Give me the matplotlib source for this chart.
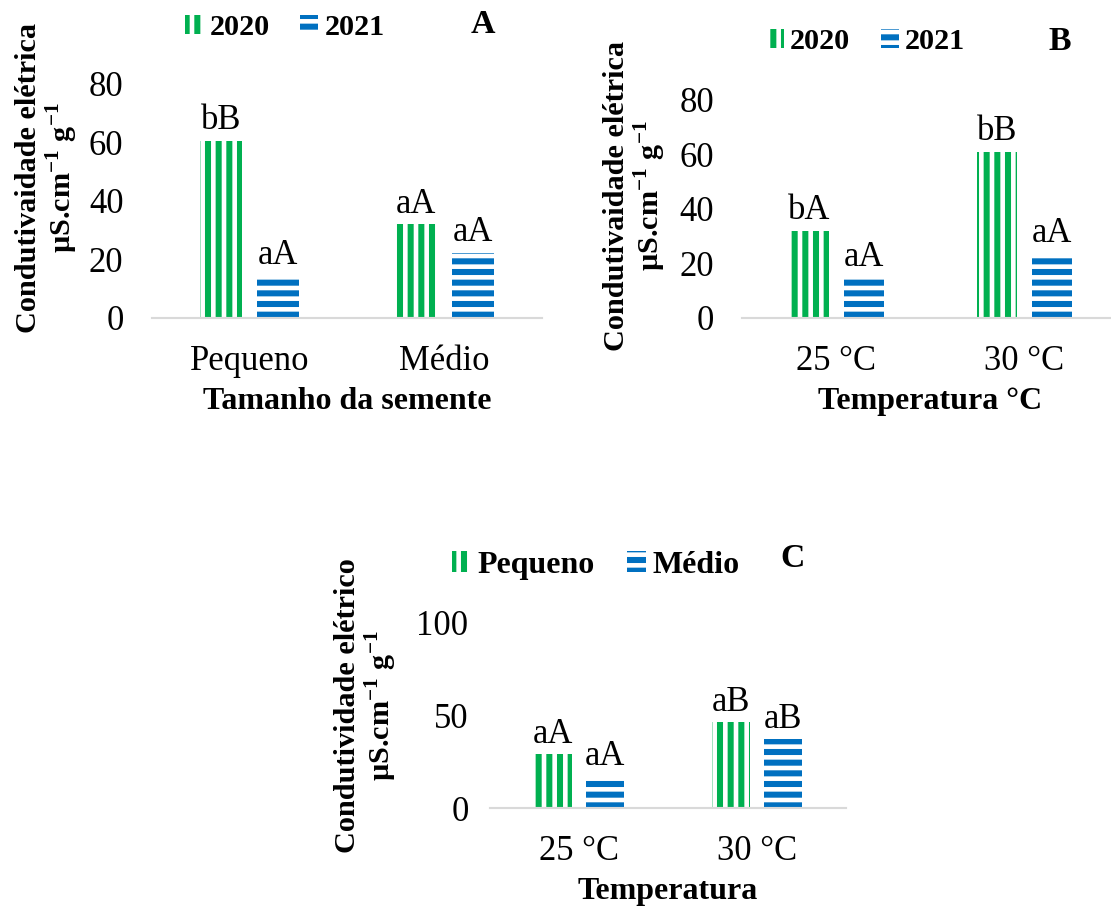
#!/usr/bin/env python3

'''Plot electrical conductivity bar charts (panels A, B and C).'''

import matplotlib
matplotlib.use('Agg')
import matplotlib.pyplot as plt
from matplotlib.patches import Patch


DPI = 128
FIG_W = 1111 / DPI
FIG_H = 909 / DPI

GREEN = '#00b050'
BLUE = '#0070c0'
SPINE = '#d9d9d9'

BAR_W = 0.215
OFFSET = 0.145

# Panel A
A_CATS = ['Pequeno', 'Médio']
A_2020 = [60.5, 32.0]
A_2021 = [14.4, 22.2]
A_LET_2020 = ['bB', 'aA']
A_LET_2021 = ['aA', 'aA']
A_YTICKS = [0, 20, 40, 60, 80]

# Panel B
B_CATS = ['25 °C', '30 °C']
B_2020 = [31.9, 61.0]
B_2021 = [14.7, 23.5]
B_LET_2020 = ['bA', 'bB']
B_LET_2021 = ['aA', 'aA']
B_YTICKS = [0, 20, 40, 60, 80]

# Panel C
C_CATS = ['25 °C', '30 °C']
C_PEQ = [29.0, 46.0]
C_MED = [16.7, 37.0]
C_LET_PEQ = ['aA', 'aB']
C_LET_MED = ['aA', 'aB']
C_YTICKS = [0, 50, 100]

plt.rcParams['font.family'] = 'Liberation Serif'
plt.rcParams['mathtext.fontset'] = 'custom'
plt.rcParams['mathtext.rm'] = 'Liberation Serif'
plt.rcParams['mathtext.bf'] = 'Liberation Serif:bold'
plt.rcParams['hatch.linewidth'] = 3.4

TICK_FS = 19.5
ANN_FS = 19.5
YLAB_FS = 17
XLAB_FS = 18
LET_FS = 19

YLAB_A = 'Condutivaidade elétrica\nµS.cm$^{\\mathbf{-1}}$ g$^{\\mathbf{-1}}$'
YLAB_C = 'Condutividade elétrico\nµS.cm$^{\\mathbf{-1}}$ g$^{\\mathbf{-1}}$'


def draw_bars(axis, vals, letters, pos, color, hatch):
    '''Draw one hatched series and its letters.'''
    xs = [i + pos for i in range(len(vals))]
    bars = axis.bar(xs, vals, BAR_W, facecolor='white', edgecolor=color,
                    linewidth=0, hatch=hatch)
    for x, v, t in zip(xs, vals, letters):
        axis.annotate(t, (x, v), xytext=(0, 2), textcoords='offset points',
                      ha='center', va='bottom', fontsize=ANN_FS)
    return bars


def format_axis(axis, cats, yticks, ylabel, ylab_xy, xlabel, ypad):
    '''Configure spines, ticks and labels.'''
    for side in ('top', 'right', 'left'):
        axis.spines[side].set_visible(False)
    axis.spines['bottom'].set_color(SPINE)
    axis.spines['bottom'].set_linewidth(1.2)
    axis.set_xlim(-0.5, 1.5)
    axis.set_ylim(yticks[0], yticks[-1])
    axis.set_xticks(range(len(cats)))
    axis.set_xticklabels(cats)
    axis.set_yticks(yticks)
    axis.tick_params(axis='both', length=0, labelsize=TICK_FS)
    axis.tick_params(axis='x', pad=15)
    axis.tick_params(axis='y', pad=ypad)
    axis.set_ylabel(ylabel, fontsize=YLAB_FS, fontweight='bold',
                    multialignment='center', linespacing=1.05)
    axis.yaxis.set_label_coords(*ylab_xy)
    axis.set_xlabel(xlabel, fontsize=XLAB_FS, fontweight='bold', labelpad=5)


def add_legend(fig, names, center, size):
    '''Legend above a panel.'''
    handles = [Patch(facecolor='white', edgecolor=GREEN, linewidth=0,
                     hatch='||'),
               Patch(facecolor='white', edgecolor=BLUE, linewidth=0,
                     hatch='--')]
    leg = fig.legend(handles, names, loc='center', bbox_to_anchor=center,
                     bbox_transform=fig.transFigure, ncol=2, frameon=False,
                     handlelength=0.6, handleheight=0.6, handletextpad=0.2,
                     columnspacing=1.0, prop={'size': size,
                                              'weight': 'bold'})
    return leg


def plot_graphs():
    '''Build the three panels and save.'''
    fig = plt.figure(figsize=(FIG_W, FIG_H), dpi=DPI)

    ax_a = fig.add_axes([0.1368, 0.6502, 0.351, 0.2574])
    draw_bars(ax_a, A_2020, A_LET_2020, -OFFSET, GREEN, '||')
    draw_bars(ax_a, A_2021, A_LET_2021, OFFSET, BLUE, '--')
    format_axis(ax_a, A_CATS, A_YTICKS, YLAB_A, (-0.184, 0.6),
                'Tamanho da semente', 16)
    add_legend(fig, ['2020', '2021'], (0.2565, 0.970), 17)
    fig.text(0.435, 0.9725, 'A', fontsize=LET_FS, fontweight='bold',
             ha='center', va='center')

    ax_b = fig.add_axes([0.6683, 0.6502, 0.3384, 0.2398])
    draw_bars(ax_b, B_2020, B_LET_2020, -OFFSET, GREEN, '||')
    draw_bars(ax_b, B_2021, B_LET_2021, OFFSET, BLUE, '--')
    format_axis(ax_b, B_CATS, B_YTICKS, YLAB_A, (-0.198, 0.56),
                'Temperatura °C', 16)
    add_legend(fig, ['2020', '2021'], (0.779, 0.954), 17)
    fig.text(0.954, 0.954, 'B', fontsize=LET_FS, fontweight='bold',
             ha='center', va='center')

    ax_c = fig.add_axes([0.441, 0.1111, 0.3204, 0.2046])
    draw_bars(ax_c, C_PEQ, C_LET_PEQ, -OFFSET, GREEN, '||')
    draw_bars(ax_c, C_MED, C_LET_MED, OFFSET, BLUE, '--')
    format_axis(ax_c, C_CATS, C_YTICKS, YLAB_C, (-0.256, 0.55),
                'Temperatura', 12)
    add_legend(fig, ['Pequeno', 'Médio'], (0.536, 0.378), 18)
    fig.text(0.713, 0.386, 'C', fontsize=LET_FS, fontweight='bold',
             ha='center', va='center')

    plt.savefig('out.png', dpi=DPI)


if __name__ == '__main__':
    plot_graphs()
